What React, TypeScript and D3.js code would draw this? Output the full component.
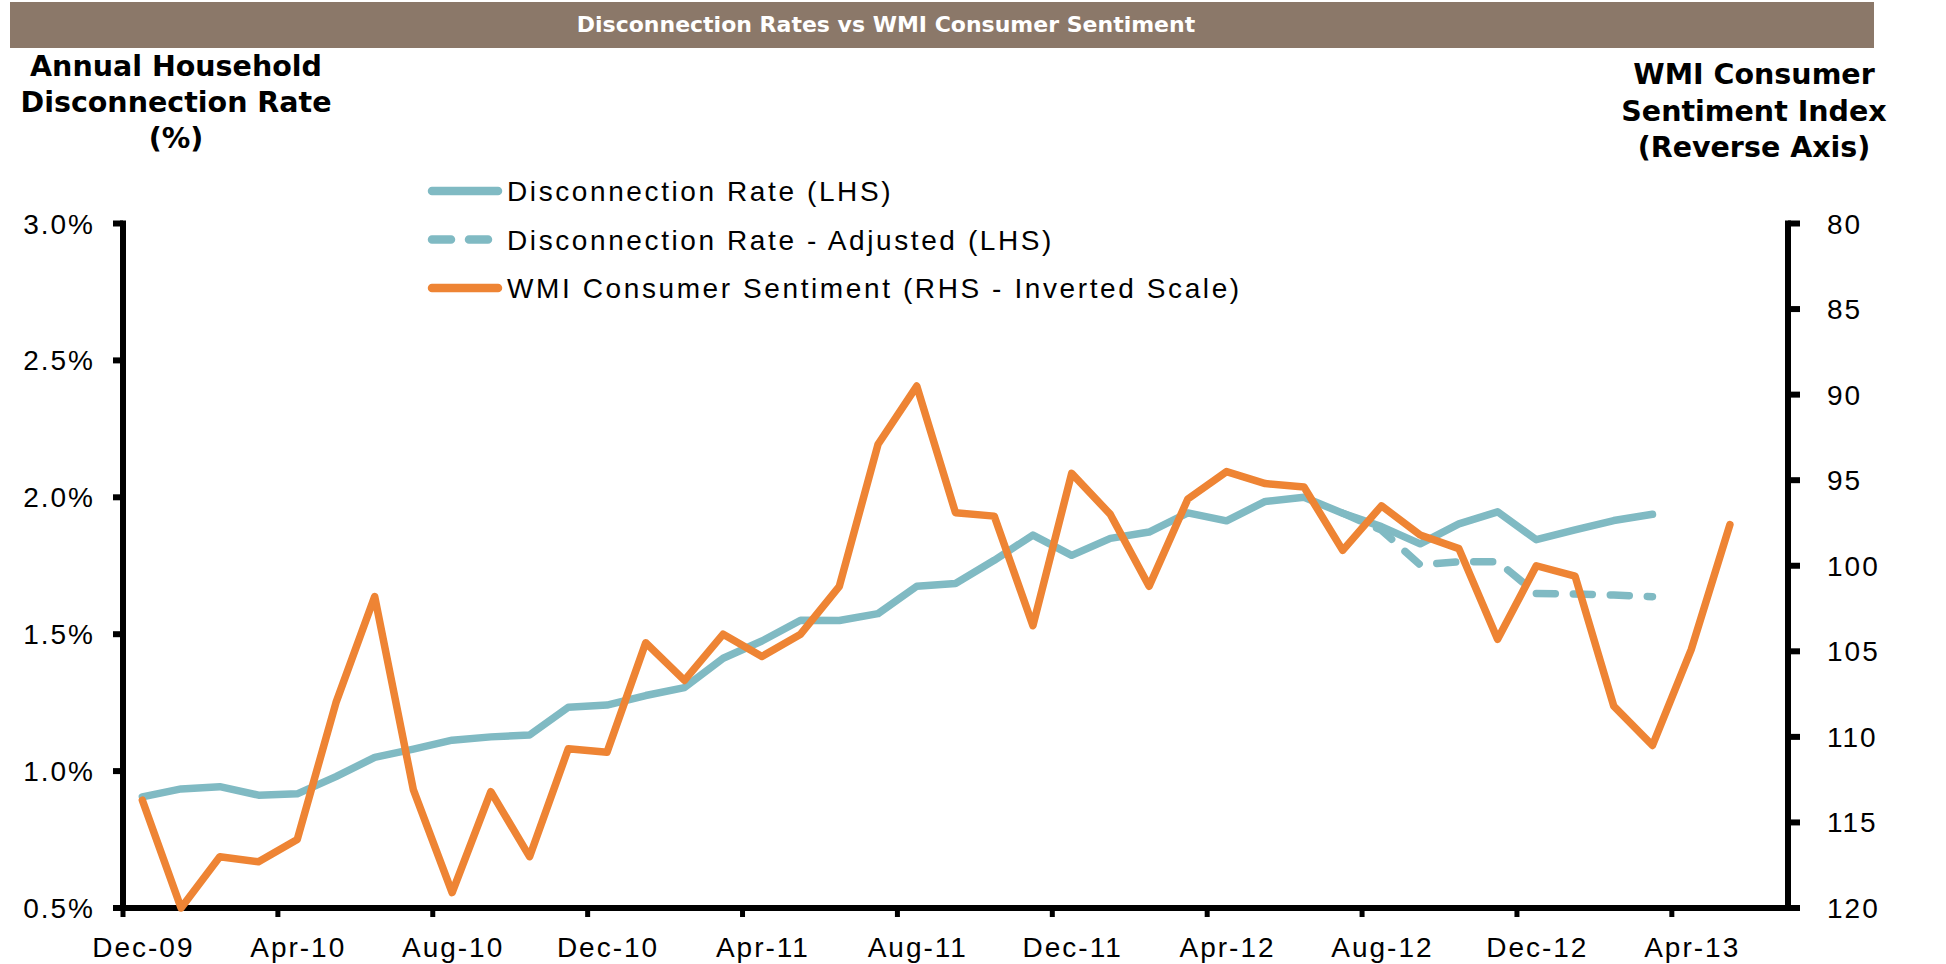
import React from "react";
import * as d3 from "d3";

// months on the category axis (Excel date axis, points sit between tick marks)
const months = [
  "Dec-09",
  "Jan-10", "Feb-10", "Mar-10", "Apr-10", "May-10", "Jun-10", "Jul-10", "Aug-10", "Sep-10", "Oct-10", "Nov-10", "Dec-10",
  "Jan-11", "Feb-11", "Mar-11", "Apr-11", "May-11", "Jun-11", "Jul-11", "Aug-11", "Sep-11", "Oct-11", "Nov-11", "Dec-11",
  "Jan-12", "Feb-12", "Mar-12", "Apr-12", "May-12", "Jun-12", "Jul-12", "Aug-12", "Sep-12", "Oct-12", "Nov-12", "Dec-12",
  "Jan-13", "Feb-13", "Mar-13", "Apr-13", "May-13", "Jun-13",
];
const xTicks = ["Dec-09", "Apr-10", "Aug-10", "Dec-10", "Apr-11", "Aug-11", "Dec-11", "Apr-12", "Aug-12", "Dec-12", "Apr-13"];
const leftTicks = [0.5, 1.0, 1.5, 2.0, 2.5, 3.0];
const rightTicks = [80, 85, 90, 95, 100, 105, 110, 115, 120];

// Disconnection Rate (LHS), %, from Dec-09
const rate = [
  0.906, 0.935, 0.943, 0.912, 0.917, 0.98, 1.05, 1.08, 1.113, 1.125, 1.132, 1.233, 1.241,
  1.276, 1.305, 1.412, 1.475, 1.551, 1.55, 1.575, 1.675, 1.685, 1.77, 1.862, 1.788,
  1.85, 1.873, 1.943, 1.914, 1.985, 2.0, 1.942, 1.893, 1.83, 1.903, 1.947, 1.845,
  1.881, 1.915, 1.938,
];
// Disconnection Rate - Adjusted (LHS), from Jul-12
const adjStart = "Jul-12";
const rateAdj = [1.942, 1.88, 1.753, 1.765, 1.765, 1.649, 1.647, 1.643, 1.637];
// WMI Consumer Sentiment (RHS, inverted), from Dec-09
const wmi = [
  113.7, 120.0, 117.0, 117.3, 116.0, 108.0, 101.8, 113.1, 119.1, 113.2, 117.0, 110.7, 110.9,
  104.5, 106.7, 104.0, 105.3, 104.0, 101.2, 92.9, 89.5, 96.9, 97.1, 103.5, 94.6,
  97.0, 101.2, 96.1, 94.5, 95.2, 95.4, 99.1, 96.5, 98.2, 99.0, 104.3, 100.0,
  100.6, 108.2, 110.5, 104.9, 97.6,
];

const TEAL = "#80BAC3";
const ORANGE = "#EE8434";
const BAR = "#8B7869";
const LABEL_FONT = "'Liberation Sans', Arial, sans-serif";
const TITLE_FONT = "'DejaVu Sans', Verdana, sans-serif";

export default function App() {
  const width = 1946;
  const height = 964;
  const left = 123;
  const right = 1788;
  const top = 223.5;
  const bottom = 908;

  const x = d3.scaleBand<string>().domain(months).range([left, right]).padding(0);
  const xc = (m: string) => (x(m) as number) + x.bandwidth() / 2;
  const yL = d3.scaleLinear().domain([0.5, 3.0]).range([bottom, top]);
  const yR = d3.scaleLinear().domain([120, 80]).range([bottom, top]);

  const lineFrom = (start: number, scale: d3.ScaleLinear<number, number>) =>
    d3
      .line<number>()
      .x((_, i) => xc(months[start + i]))
      .y((d) => scale(d));

  const adjIdx = months.indexOf(adjStart);
  const rateLine = lineFrom(0, yL)(rate) as string;
  const adjLine = lineFrom(adjIdx, yL)(rateAdj) as string;
  const wmiLine = lineFrom(0, yR)(wmi) as string;

  const legend = [
    { label: "Disconnection Rate (LHS)", color: TEAL, dash: undefined as string | undefined },
    { label: "Disconnection Rate - Adjusted (LHS)", color: TEAL, dash: "19 18" },
    { label: "WMI Consumer Sentiment (RHS - Inverted Scale)", color: ORANGE, dash: undefined },
  ];

  return (
    <svg
      width={width}
      height={height}
      style={{ position: "absolute", left: 0, top: 0, background: "#fff" }}
    >
      <rect x={10} y={2} width={1864} height={46} fill={BAR} />
      <text
        x={886}
        y={32}
        textAnchor="middle"
        fill="#fff"
        fontFamily={TITLE_FONT}
        fontWeight="bold"
        fontSize={22}
      >
        Disconnection Rates vs WMI Consumer Sentiment
      </text>

      <g fontFamily={TITLE_FONT} fontWeight="bold" fontSize={28.5} textAnchor="middle" fill="#000">
        <text x={176} y={76}>Annual Household</text>
        <text x={176} y={112}>Disconnection Rate</text>
        <text x={176} y={148}>(%)</text>
        <text x={1754} y={84}>WMI Consumer</text>
        <text x={1754} y={121}>Sentiment Index</text>
        <text x={1754} y={157}>(Reverse Axis)</text>
      </g>

      {/* legend */}
      <g fontFamily={LABEL_FONT} fontSize={28} letterSpacing={2.6}>
        {legend.map((l, i) => {
          const ly = 191 + i * 48.5;
          return (
            <g key={l.label}>
              <line
                x1={432}
                x2={498}
                y1={ly}
                y2={ly}
                stroke={l.color}
                strokeWidth={8.5}
                strokeLinecap="round"
                strokeDasharray={l.dash}
              />
              <text x={507} y={ly + 10}>{l.label}</text>
            </g>
          );
        })}
      </g>

      {/* axes */}
      <g stroke="#000" strokeWidth={6}>
        <line x1={left} x2={left} y1={top - 3} y2={bottom + 3} />
        <line x1={right} x2={right} y1={top - 3} y2={bottom + 3} />
        <line x1={left - 3} x2={right + 3} y1={bottom} y2={bottom} />
        {leftTicks.map((t) => (
          <line key={"l" + t} x1={left - 10} x2={left} y1={yL(t)} y2={yL(t)} />
        ))}
        {rightTicks.map((t) => (
          <line key={"r" + t} x1={right} x2={right + 12} y1={yR(t)} y2={yR(t)} />
        ))}
        {xTicks.map((t) => (
          <line key={"x" + t} x1={x(t) as number} x2={x(t) as number} y1={bottom} y2={bottom + 9} strokeWidth={5} />
        ))}
      </g>

      <g fontFamily={LABEL_FONT} fontSize={28} letterSpacing={2} fill="#000">
        {leftTicks.map((t) => (
          <text key={"lt" + t} x={95} y={yL(t) + 10} textAnchor="end">
            {t.toFixed(1) + "%"}
          </text>
        ))}
        {rightTicks.map((t) => (
          <text key={"rt" + t} x={1827} y={yR(t) + 10}>
            {t}
          </text>
        ))}
        {xTicks.map((t) => (
          <text key={"xt" + t} x={xc(t) + 1} y={957} textAnchor="middle">
            {t}
          </text>
        ))}
      </g>

      {/* series */}
      <g fill="none" strokeLinejoin="round" strokeLinecap="round" strokeWidth={7.5}>
        <path d={rateLine} stroke={TEAL} />
        <path d={adjLine} stroke={TEAL} strokeDasharray="19 18" />
        <path d={wmiLine} stroke={ORANGE} />
      </g>
    </svg>
  );
}
